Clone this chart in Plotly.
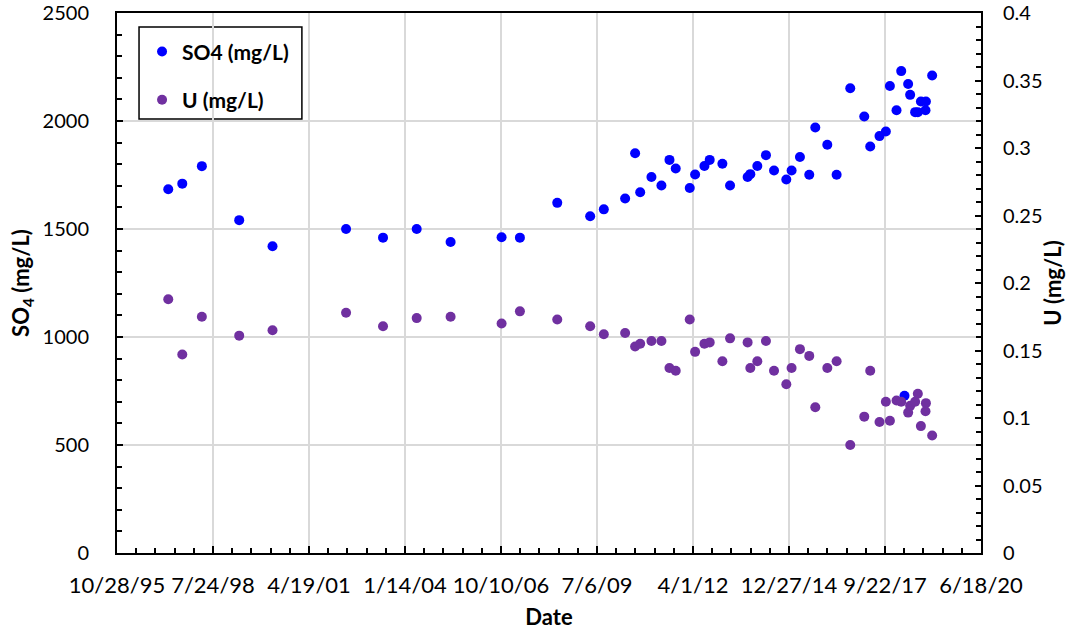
import plotly.graph_objects as go

dates = [
    "1997-04-14", "1997-09-07", "1998-03-30", "1999-04-23", "2000-04-04",
    "2002-05-10", "2003-05-30", "2004-05-15", "2005-05-03", "2006-10-16",
    "2007-04-25", "2008-05-18", "2009-04-26", "2009-09-15", "2010-04-25",
    "2010-08-07", "2010-09-29", "2011-01-24", "2011-05-08", "2011-07-31",
    "2011-10-04", "2012-02-27", "2012-04-23", "2012-07-29", "2012-09-22",
    "2013-02-01", "2013-04-22", "2013-10-22", "2013-11-19", "2014-01-31",
    "2014-05-01", "2014-07-24", "2014-11-29", "2015-01-23", "2015-04-20",
    "2015-07-26", "2015-09-27", "2016-01-30", "2016-05-06", "2016-09-25",
    "2017-02-18", "2017-04-21", "2017-07-27", "2017-10-01", "2017-11-12",
    "2018-01-20", "2018-03-10", "2018-05-21", "2018-06-11", "2018-08-02",
    "2018-08-30", "2018-10-01", "2018-11-22", "2018-11-18", "2019-01-26",
    "2018-04-13",
]

so4 = [
    1684, 1710, 1791, 1541, 1420,
    1500, 1460, 1500, 1440, 1462,
    1460, 1621, 1559, 1591, 1641,
    1851, 1670, 1741, 1701, 1820,
    1780, 1690, 1752, 1792, 1820,
    1802, 1701, 1741, 1754, 1792,
    1842, 1771, 1729, 1771, 1833,
    1751, 1970, 1890, 1751, 2152,
    2021, 1882, 1930, 1951, 2162,
    2050, 2231, 2171, 2121, 2041,
    2041, 2090, 2090, 2050, 2211,
    728,
]

u = [
    0.188, 0.147, 0.175, 0.161, 0.165,
    0.178, 0.168, 0.174, 0.175, 0.170,
    0.179, 0.173, 0.168, 0.162, 0.163,
    0.153, 0.155, 0.157, 0.157, 0.137,
    0.135, 0.173, 0.149, 0.155, 0.156,
    0.142, 0.159, 0.156, 0.137, 0.142,
    0.157, 0.135, 0.125, 0.137, 0.151,
    0.146, 0.108, 0.137, 0.142, 0.080,
    0.101, 0.135, 0.097, 0.112, 0.098,
    0.113, 0.112, 0.104, 0.109, 0.112,
    0.118, 0.094, 0.111, 0.105, 0.087,
    None,
]

x_range = ["1995-10-28", "2020-06-18"]
DAY_MS = 86400000

FONT = "Lato"

fig = go.Figure()
fig.add_trace(go.Scatter(
    x=dates, y=so4, mode="markers", name="SO4 (mg/L)", legendgroup="a",
    marker=dict(color="#0000FF", size=10), yaxis="y",
))
fig.add_trace(go.Scatter(
    x=dates, y=u, mode="markers", name="U (mg/L)", legendgroup="b",
    marker=dict(color="#7030A0", size=10), yaxis="y2",
))

axis_line = dict(showline=True, linecolor="black", linewidth=2)

fig.update_layout(
    width=1075, height=632,
    margin=dict(l=117, r=94, t=13, b=79),
    plot_bgcolor="white", paper_bgcolor="white",
    font=dict(family=FONT, color="black", size=20),
    showlegend=True,
    legend=dict(
        x=0.029, y=0.966, xanchor="left", yanchor="top",
        borderwidth=0, bgcolor="rgba(0,0,0,0)",
        font=dict(family=FONT, size=21, color="black", weight="bold"),
        tracegroupgap=18,
    ),
    shapes=[dict(
        type="rect", xref="paper", yref="paper",
        x0=0.0255, x1=0.214, y0=0.8037, y1=0.974,
        line=dict(color="black", width=1.5), fillcolor="white", layer="between",
    )],
    xaxis=dict(
        type="date", range=x_range, automargin=False,
        tick0="1995-10-28", dtick=1000 * DAY_MS, tickformat="%-m/%-d/%y",
        showgrid=True, gridcolor="#D9D9D9", gridwidth=1.5,
        ticks="inside", ticklen=7, tickwidth=2, tickcolor="black",
        minor=dict(tick0="1995-10-28", dtick=200 * DAY_MS, ticks="inside",
                   ticklen=5, tickwidth=1.5, tickcolor="black", showgrid=False),
        mirror=True, zeroline=False,
        ticklabelstandoff=12, ticklabeloverflow="allow",
        tickfont=dict(size=22, family=FONT),
        title=dict(text="Date", font=dict(size=22, family=FONT, weight="bold"),
                   standoff=12),
        **axis_line,
    ),
    yaxis=dict(
        range=[0, 2500], dtick=500, tick0=0, automargin=False,
        showgrid=True, gridcolor="#D9D9D9", gridwidth=1.5,
        ticks="inside", ticklen=6, tickwidth=2, tickcolor="black",
        minor=dict(dtick=100, ticks="inside", ticklen=5, tickwidth=1.5,
                   tickcolor="black", showgrid=False),
        zeroline=False, ticklabelstandoff=22, ticklabeloverflow="allow",
        tickfont=dict(size=20, family=FONT),
        title=dict(text="SO<sub>4</sub> (mg/L)",
                   font=dict(size=22, family=FONT, weight="bold"), standoff=7),
        **axis_line,
    ),
    yaxis2=dict(
        overlaying="y", side="right", automargin=False,
        range=[0, 0.4], dtick=0.05, tick0=0,
        showgrid=False,
        ticks="inside", ticklen=6, tickwidth=2, tickcolor="black",
        minor=dict(dtick=0.01, ticks="inside", ticklen=5, tickwidth=1.5,
                   tickcolor="black", showgrid=False),
        zeroline=False, ticklabelstandoff=16, ticklabeloverflow="allow",
        tickfont=dict(size=20, family=FONT),
        title=dict(text="U (mg/L)",
                   font=dict(size=22, family=FONT, weight="bold"), standoff=4),
        **axis_line,
    ),
)

fig.write_html(
    "out.html",
    config={"displayModeBar": False},
    post_script="document.body.style.margin='0';document.body.style.overflow='hidden';",
)
